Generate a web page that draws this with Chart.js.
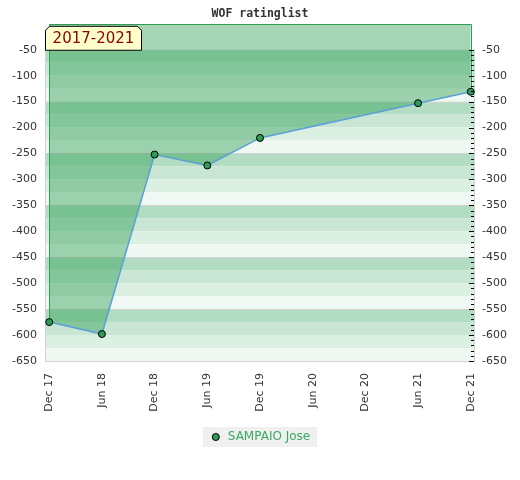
<html>
    <head>
        <title>WOF ratinglist</title>
        <meta charset="utf-8" />
        <style>
            body { margin: 0; background: #fff; }
            #wrap { width: 520px; height: 480px; }
        </style>
    </head>
    <body>
        <div id="wrap">
            <canvas id="chart" width="520" height="480"></canvas>
        </div>

        <script src="https://cdn.jsdelivr.net/npm/chart.js"></script>

        <script>
        // x axis: half-year steps, Dec 17 .. Dec 21
        const monthLabels = ['Dec 17', 'Jun 18', 'Dec 18', 'Jun 19', 'Dec 19', 'Jun 20', 'Dec 20', 'Jun 21', 'Dec 21'];
        // which of the labels have a rating, and the ratings themselves
        const pointIndex = [0, 1, 2, 3, 4, 7, 8];
        const ratings = [-575, -598, -252, -273, -220, -153, -131];

        const yMin = -650;
        const yMax = 0;
        const bandTop = -50;
        const stripeColors = ['#b3ddc2', '#c8e6d3', '#dcefe3', '#eff8f2'];
        const periodText = '2017-2021';

        const points = pointIndex.map((ix, i) => ({ x: ix, y: ratings[i] }));

        // striped background bands, every 100 rating points, 4 stripes each
        const bandPlugin = {
            id: 'bands',
            beforeDatasetsDraw(chart) {
                const { ctx, chartArea: a } = chart;
                const y = chart.scales.y;
                ctx.save();
                for (let v = bandTop, i = 0; v > yMin; v -= 25, i++) {
                    const y0 = y.getPixelForValue(v);
                    const y1 = y.getPixelForValue(v - 25);
                    ctx.fillStyle = stripeColors[i % 4];
                    ctx.fillRect(a.left, y0, a.right - a.left, y1 - y0);
                }
                ctx.strokeStyle = '#d2d2d2';
                ctx.lineWidth = 1;
                for (let v = bandTop; v > yMin; v -= 100) {
                    const py = Math.round(y.getPixelForValue(v)) + 0.5;
                    ctx.beginPath();
                    ctx.moveTo(a.left, py);
                    ctx.lineTo(a.right, py);
                    ctx.stroke();
                }
                const top = y.getPixelForValue(bandTop);
                const bottom = Math.round(y.getPixelForValue(yMin)) + 0.5;
                ctx.beginPath();
                ctx.moveTo(a.left + 0.5, top);
                ctx.lineTo(a.left + 0.5, bottom);
                ctx.lineTo(a.right - 0.5, bottom);
                ctx.lineTo(a.right - 0.5, top);
                ctx.stroke();
                ctx.restore();
            },
            beforeDatasetDraw(chart) {
                // green outline of the filled area
                const { ctx, chartArea: a } = chart;
                const x = chart.scales.x, y = chart.scales.y;
                const first = points[0], last = points[points.length - 1];
                const xl = Math.round(x.getPixelForValue(first.x)) + 0.5;
                const xr = Math.round(x.getPixelForValue(last.x)) + 0.5;
                const top = Math.round(a.top) + 0.5;
                ctx.save();
                ctx.strokeStyle = '#2f9e52';
                ctx.lineWidth = 1;
                ctx.beginPath();
                ctx.moveTo(xl, y.getPixelForValue(first.y));
                ctx.lineTo(xl, top);
                ctx.lineTo(xr, top);
                ctx.lineTo(xr, y.getPixelForValue(last.y));
                ctx.stroke();
                ctx.restore();
            },
            afterDatasetsDraw(chart) {
                const { ctx, chartArea: a } = chart;
                const y = chart.scales.y;
                ctx.save();
                // small ticks on the right edge
                ctx.strokeStyle = '#000';
                ctx.lineWidth = 1;
                for (let v = bandTop; v >= yMin; v -= 10) {
                    const py = Math.round(y.getPixelForValue(v)) + 0.5;
                    const len = (v % 50 === 0) ? 5 : 3;
                    ctx.beginPath();
                    ctx.moveTo(a.right - len - 1, py);
                    ctx.lineTo(a.right - 1, py);
                    ctx.stroke();
                }
                // period label
                const bx = a.left, by = a.top + 2;
                const bw = 96, bh = y.getPixelForValue(bandTop) - by, c = 4;
                ctx.beginPath();
                ctx.moveTo(bx + 0.5, by + bh + 0.5);
                ctx.lineTo(bx + 0.5, by + c + 0.5);
                ctx.lineTo(bx + c + 0.5, by + 0.5);
                ctx.lineTo(bx + bw - c + 0.5, by + 0.5);
                ctx.lineTo(bx + bw + 0.5, by + c + 0.5);
                ctx.lineTo(bx + bw + 0.5, by + bh + 0.5);
                ctx.closePath();
                ctx.fillStyle = '#ffffcc';
                ctx.fill();
                ctx.strokeStyle = '#000';
                ctx.stroke();
                ctx.fillStyle = '#8b0000';
                ctx.font = '15px "DejaVu Sans"';
                ctx.textAlign = 'center';
                ctx.textBaseline = 'middle';
                ctx.fillText(periodText, bx + bw / 2 + 0.5, by + bh / 2 + 1.5);
                ctx.restore();
            }
        };

        // grey box behind the legend item
        const legendBg = {
            id: 'legendBg',
            beforeDraw(chart) {
                const boxes = chart.legend && chart.legend.legendHitBoxes;
                if (!boxes || !boxes.length) return;
                const b = boxes[0];
                const { ctx } = chart;
                ctx.save();
                ctx.fillStyle = '#f0f0f0';
                ctx.fillRect(b.left - 7, b.top - 4, b.width + 14, b.height + 8);
                ctx.restore();
            }
        };

        const tickFont = { family: 'DejaVu Sans', size: 11 };

        new Chart(document.getElementById('chart'), {
            type: 'line',
            data: {
                datasets: [{
                    label: 'SAMPAIO Jose',
                    data: points,
                    borderColor: '#5a9fd8',
                    borderWidth: 1.5,
                    backgroundColor: 'rgba(36, 153, 75, 0.41)',
                    fill: 'end',
                    tension: 0,
                    pointRadius: 3.5,
                    pointHoverRadius: 3.5,
                    pointBackgroundColor: '#2e9a57',
                    pointBorderColor: '#000',
                    pointBorderWidth: 1
                }]
            },
            options: {
                responsive: false,
                animation: false,
                layout: { padding: { left: 0, right: 0, top: 0, bottom: 27 } },
                scales: {
                    x: {
                        type: 'linear',
                        min: -0.08,
                        max: 8.08,
                        afterBuildTicks(scale) {
                            scale.ticks = monthLabels.map((_, i) => ({ value: i }));
                        },
                        afterFit(scale) { scale.height = 66; },
                        grid: { display: false, drawTicks: false },
                        border: { display: false },
                        ticks: {
                            autoSkip: false,
                            maxRotation: 90,
                            minRotation: 90,
                            padding: 12,
                            color: '#333',
                            font: tickFont,
                            callback: v => monthLabels[v]
                        }
                    },
                    y: {
                        position: 'left',
                        min: yMin,
                        max: yMax,
                        afterFit(scale) { scale.width = 45; },
                        grid: { display: false, drawTicks: false },
                        border: { display: false },
                        ticks: {
                            stepSize: 50,
                            padding: 8,
                            color: '#333',
                            font: tickFont,
                            callback: v => (v === 0 ? '' : v)
                        }
                    },
                    y2: {
                        position: 'right',
                        min: yMin,
                        max: yMax,
                        afterFit(scale) { scale.width = 45; },
                        grid: { display: false, drawTicks: false },
                        border: { display: false },
                        ticks: {
                            stepSize: 50,
                            padding: 7,
                            color: '#333',
                            font: tickFont,
                            callback: v => (v === 0 ? '' : v)
                        }
                    }
                },
                plugins: {
                    title: {
                        display: true,
                        text: 'WOF ratinglist',
                        color: '#333',
                        font: { family: 'DejaVu Sans Mono', size: 11.5, weight: 'bold' },
                        padding: { top: 7, bottom: 3 }
                    },
                    legend: {
                        position: 'bottom',
                        labels: {
                            usePointStyle: true,
                            boxWidth: 12,
                            boxHeight: 5,
                            padding: 4,
                            color: '#3aaa5f',
                            font: { family: 'DejaVu Sans', size: 12 },
                            generateLabels: chart => [{
                                text: chart.data.datasets[0].label,
                                fillStyle: '#2e9a57',
                                strokeStyle: '#000',
                                fontColor: '#3aaa5f',
                                lineWidth: 1,
                                pointStyle: 'circle',
                                datasetIndex: 0
                            }]
                        }
                    },
                    tooltip: { enabled: false }
                }
            },
            plugins: [bandPlugin, legendBg]
        });
        </script>
    </body>
</html>
